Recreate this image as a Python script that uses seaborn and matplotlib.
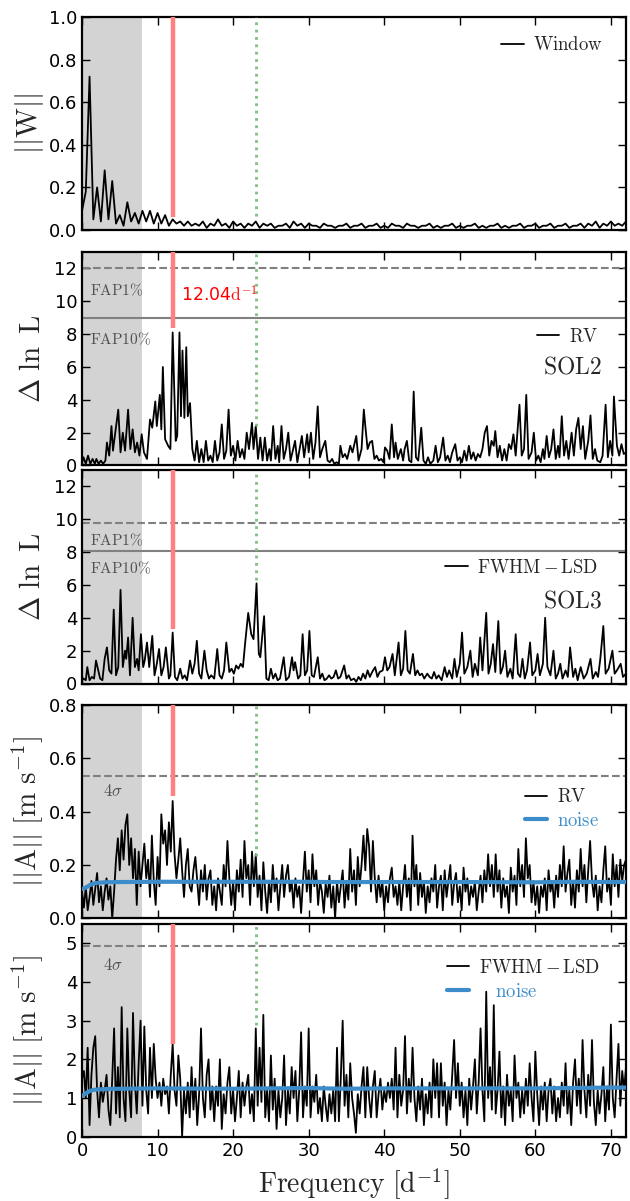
import numpy as np
import pandas as pd
import matplotlib
matplotlib.use("Agg")
import matplotlib.pyplot as plt
import seaborn as sns

# ---------------- data ----------------
WIN_STEP = 0.5   # frequency spacing of the window values [1/d]
window_power = [
    0.09, 0.18, 0.72, 0.05, 0.20, 0.04, 0.28, 0.05, 0.23, 0.03,
    0.07, 0.02, 0.13, 0.04, 0.08, 0.03, 0.09, 0.04, 0.09, 0.03,
    0.08, 0.03, 0.07, 0.02, 0.05, 0.03, 0.04, 0.02, 0.04, 0.02,
    0.03, 0.02, 0.04, 0.01, 0.03, 0.02, 0.05, 0.02, 0.03, 0.01,
    0.04, 0.02, 0.03, 0.01, 0.03, 0.02, 0.04, 0.01, 0.03, 0.02,
    0.03, 0.01, 0.02, 0.02, 0.03, 0.01, 0.04, 0.02, 0.03, 0.01,
    0.03, 0.02, 0.02, 0.01, 0.03, 0.02, 0.02, 0.01, 0.02, 0.02,
    0.03, 0.01, 0.02, 0.02, 0.03, 0.01, 0.02, 0.02, 0.03, 0.01,
    0.02, 0.01, 0.03, 0.02, 0.02, 0.01, 0.03, 0.02, 0.02, 0.01,
    0.02, 0.02, 0.03, 0.01, 0.02, 0.01, 0.02, 0.02, 0.03, 0.01,
    0.02, 0.01, 0.02, 0.02, 0.03, 0.01, 0.02, 0.01, 0.02, 0.02,
    0.03, 0.01, 0.02, 0.01, 0.02, 0.02, 0.03, 0.01, 0.02, 0.02,
    0.03, 0.01, 0.02, 0.02, 0.03, 0.01, 0.02, 0.02, 0.03, 0.01,
    0.02, 0.02, 0.03, 0.01, 0.03, 0.02, 0.04, 0.01, 0.03, 0.02,
    0.04, 0.02, 0.03, 0.02, 0.04,
]

# Delta ln L, RV (SOL2)
freq_rv_lnl = [
    0.0, 0.2, 0.5, 0.8, 1.1, 1.4, 1.7, 1.9, 2.2, 2.5,
    2.8, 3.1, 3.3, 3.6, 3.9, 4.1, 4.4, 4.8, 5.1, 5.4,
    5.7, 6.1, 6.4, 6.7, 7.0, 7.3, 7.6, 7.9, 8.2, 8.6,
    9.0, 9.3, 9.7, 9.9, 10.3, 10.5, 10.7, 11.0, 11.4, 11.7,
    12.0, 12.4, 12.6, 12.9, 13.1, 13.3, 13.55, 13.8, 14.0, 14.3,
    14.6, 14.9, 15.2, 15.5, 15.8, 16.1, 16.4, 16.7, 17.0, 17.3,
    17.6, 17.9, 18.2, 18.5, 18.8, 19.1, 19.4, 19.7, 20.0, 20.3,
    20.6, 20.9, 21.2, 21.5, 21.8, 22.1, 22.5, 22.7, 23.0, 23.3,
    23.6, 23.9, 24.2, 24.5, 24.8, 25.0, 25.3, 25.6, 25.9, 26.1,
    26.4, 26.7, 27.0, 27.3, 27.6, 27.9, 28.2, 28.5, 28.8, 29.1,
    29.4, 29.8, 30.0, 30.3, 30.6, 30.9, 31.2, 31.5, 31.8, 32.2,
    32.5, 32.8, 33.1, 33.4, 33.7, 34.0, 34.2, 34.5, 34.8, 35.1,
    35.5, 35.8, 36.0, 36.3, 36.6, 37.0, 37.3, 37.5, 37.8, 38.1,
    38.4, 38.7, 39.0, 39.3, 39.6, 39.9, 40.1, 40.4, 40.7, 41.0,
    41.3, 41.5, 41.8, 42.2, 42.5, 42.7, 43.0, 43.3, 43.6, 43.9,
    44.2, 44.5, 44.9, 45.2, 45.5, 45.8, 46.1, 46.5, 46.8, 47.1,
    47.4, 47.8, 48.1, 48.4, 48.7, 49.0, 49.4, 49.7, 50.0, 50.3,
    50.6, 50.9, 51.2, 51.5, 51.8, 52.1, 52.4, 52.7, 53.0, 53.3,
    53.6, 53.9, 54.2, 54.5, 54.7, 55.0, 55.3, 55.6, 55.9, 56.2,
    56.5, 56.8, 57.1, 57.4, 57.9, 58.2, 58.5, 58.8, 59.1, 59.5,
    59.8, 60.1, 60.4, 60.7, 61.0, 61.2, 61.5, 61.8, 62.1, 62.4,
    62.7, 63.0, 63.2, 63.5, 63.8, 64.1, 64.4, 64.8, 65.1, 65.4,
    65.7, 66.0, 66.3, 66.6, 67.0, 67.3, 67.6, 67.9, 68.2, 68.6,
    68.9, 69.3, 69.6, 69.9, 70.2, 70.4, 70.8, 71.1, 71.4, 71.7,
    72.0,
]
rv_lnl = [
    0.2, 0.5, 0.1, 0.6, 0.1, 0.4, 0.1, 0.4, 0.1, 0.3,
    0.1, 0.3, 1.4, 0.6, 2.4, 0.9, 2.0, 3.4, 0.8, 2.0,
    0.9, 3.4, 1.0, 2.2, 0.8, 1.4, 0.6, 1.9, 0.8, 0.4,
    2.8, 2.3, 3.9, 2.4, 4.3, 2.2, 6.0, 1.6, 1.2, 1.0,
    8.1, 1.5, 1.8, 8.1, 3.0, 7.0, 2.9, 7.2, 3.0, 3.8,
    1.0, 0.3, 1.5, 0.2, 1.0, 0.2, 1.5, 0.3, 0.6, 0.2,
    1.5, 0.3, 0.8, 2.5, 0.4, 0.9, 3.4, 0.6, 1.2, 0.3,
    1.5, 0.5, 1.0, 0.4, 2.0, 1.0, 2.6, 1.0, 2.4, 0.4,
    1.7, 0.3, 1.7, 0.3, 1.0, 0.3, 2.4, 0.4, 1.2, 0.2,
    2.4, 0.4, 1.0, 2.0, 0.3, 0.9, 1.5, 0.2, 1.0, 1.8,
    0.5, 1.9, 0.8, 2.0, 0.4, 1.4, 3.6, 0.5, 1.0, 1.5,
    0.3, 0.2, 0.4, 0.1, 0.2, 0.1, 1.2, 0.5, 0.7, 0.4,
    1.2, 0.8, 1.2, 1.8, 0.3, 1.0, 3.4, 2.4, 1.0, 1.4,
    1.5, 0.4, 0.6, 0.3, 0.4, 0.2, 1.1, 0.9, 0.4, 2.5,
    0.5, 1.4, 0.4, 1.0, 0.3, 1.0, 1.5, 0.3, 0.2, 4.5,
    0.5, 0.3, 2.3, 0.3, 0.1, 0.5, 0.1, 0.3, 1.2, 0.2,
    0.5, 1.7, 0.3, 0.6, 0.2, 0.8, 1.3, 0.3, 0.5, 0.2,
    0.9, 0.3, 1.2, 0.4, 0.8, 0.3, 0.7, 0.5, 1.0, 2.0,
    2.4, 0.6, 1.5, 1.2, 2.1, 0.5, 1.2, 0.3, 1.0, 0.3,
    1.3, 1.0, 1.9, 0.6, 3.7, 0.6, 1.0, 4.3, 0.4, 0.8,
    2.0, 0.3, 0.6, 0.2, 1.0, 0.4, 1.8, 0.5, 1.0, 2.2,
    0.4, 1.2, 0.5, 3.0, 0.6, 1.5, 0.4, 2.0, 0.6, 2.2,
    2.9, 1.0, 2.4, 0.4, 1.5, 3.05, 0.4, 1.0, 0.3, 0.2,
    0.6, 3.7, 0.5, 1.5, 0.6, 4.2, 1.2, 0.6, 1.3, 0.7,
    0.8,
]

# Delta ln L, FWHM-LSD (SOL3)
freq_fwhm_lnl = [
    0.0, 0.2, 0.5, 0.7, 1.0, 1.3, 1.6, 1.85, 2.1, 2.4,
    2.7, 3.0, 3.3, 3.6, 3.9, 4.2, 4.5, 4.8, 5.1, 5.4,
    5.7, 5.85, 6.1, 6.35, 6.7, 7.0, 7.3, 7.5, 7.8, 8.1,
    8.3, 8.6, 8.9, 9.3, 9.6, 9.9, 10.2, 10.5, 10.8, 11.1,
    11.5, 11.7, 12.0, 12.3, 12.6, 13.0, 13.3, 13.6, 13.9, 14.3,
    14.6, 14.9, 15.2, 15.5, 15.8, 16.2, 16.5, 16.8, 17.1, 17.5,
    17.9, 18.2, 18.5, 18.8, 19.1, 19.5, 19.8, 20.1, 20.4, 20.7,
    21.0, 21.3, 21.6, 22.0, 22.4, 22.7, 23.1, 23.4, 23.6, 24.1,
    24.4, 24.7, 25.0, 25.3, 25.6, 25.9, 26.2, 26.7, 27.0, 27.4,
    27.8, 28.0, 28.2, 28.6, 28.9, 29.2, 29.5, 29.8, 30.1, 30.4,
    30.7, 31.2, 31.5, 31.8, 32.1, 32.4, 32.7, 33.0, 33.3, 33.6,
    33.9, 34.2, 34.7, 35.0, 35.3, 35.6, 36.0, 36.3, 36.6, 36.9,
    37.2, 37.5, 37.8, 38.1, 38.4, 38.8, 39.1, 39.4, 39.8, 40.1,
    40.4, 40.7, 41.1, 41.4, 41.9, 42.2, 42.5, 42.8, 43.1, 43.4,
    43.8, 44.1, 44.4, 44.7, 45.0, 45.3, 45.7, 46.0, 46.3, 46.6,
    46.9, 47.2, 47.6, 48.0, 48.3, 48.6, 49.0, 49.3, 49.6, 50.0,
    50.3, 50.6, 51.0, 51.4, 51.7, 52.0, 52.4, 52.7, 53.0, 53.5,
    53.8, 54.1, 54.4, 54.7, 55.1, 55.4, 55.7, 56.0, 56.3, 56.7,
    57.0, 57.4, 57.7, 58.0, 58.3, 58.6, 58.9, 59.3, 59.6, 60.0,
    60.3, 60.6, 61.0, 61.3, 61.6, 62.0, 62.4, 62.7, 63.0, 63.3,
    63.6, 64.0, 64.3, 64.6, 65.0, 65.3, 65.6, 66.0, 66.4, 66.8,
    67.3, 67.6, 68.0, 68.3, 68.6, 69.0, 69.3, 69.7, 70.2, 70.5,
    70.8, 71.3, 71.6, 72.0,
]
fwhm_lnl = [
    0.2, 0.3, 0.2, 1.0, 0.2, 0.4, 0.3, 1.4, 0.9, 0.3,
    0.2, 1.5, 2.2, 0.8, 0.6, 4.5, 0.5, 1.0, 5.7, 1.0,
    2.0, 1.5, 2.8, 0.5, 4.0, 1.0, 1.5, 0.8, 3.0, 1.0,
    1.4, 2.5, 1.0, 2.9, 0.5, 1.2, 2.1, 0.5, 1.0, 2.2,
    0.3, 0.5, 3.1, 0.4, 0.2, 0.9, 0.3, 0.5, 0.2, 1.4,
    0.6, 1.2, 2.6, 0.6, 0.3, 2.0, 0.8, 0.3, 0.5, 0.3,
    2.1, 0.5, 0.3, 0.8, 2.5, 0.7, 0.9, 0.6, 1.1, 0.9,
    1.2, 1.0, 2.5, 4.3, 3.0, 2.7, 6.1, 1.8, 1.6, 4.1,
    0.3, 0.2, 0.9, 0.3, 0.6, 0.2, 0.3, 1.6, 0.2, 0.4,
    1.6, 0.8, 1.3, 0.3, 0.5, 3.0, 0.5, 0.8, 3.2, 0.5,
    0.4, 1.6, 0.3, 0.6, 0.2, 0.3, 0.5, 0.3, 0.4, 0.8,
    0.3, 0.4, 1.1, 0.3, 0.5, 0.2, 0.3, 0.1, 0.4, 0.2,
    0.6, 0.3, 0.8, 0.4, 0.7, 1.0, 0.4, 0.7, 0.8, 1.6,
    0.8, 1.0, 1.8, 0.5, 2.5, 0.5, 0.9, 3.2, 0.8, 0.6,
    1.8, 0.5, 0.8, 0.5, 0.6, 0.3, 0.6, 0.4, 0.3, 0.7,
    0.3, 0.5, 0.2, 1.0, 0.4, 0.8, 0.3, 1.5, 0.4, 1.2,
    3.1, 0.6, 1.0, 2.0, 0.4, 1.2, 0.5, 2.8, 0.8, 4.3,
    0.6, 1.2, 2.4, 0.7, 3.8, 0.6, 1.0, 2.0, 0.4, 0.9,
    0.3, 3.0, 0.6, 0.4, 1.5, 0.3, 0.8, 2.5, 0.5, 0.8,
    1.8, 0.5, 1.2, 4.0, 1.0, 0.5, 2.0, 0.3, 0.6, 1.2,
    0.3, 0.8, 0.4, 2.2, 0.4, 0.9, 0.2, 1.0, 0.3, 0.6,
    1.5, 0.3, 0.7, 0.4, 1.5, 3.5, 0.6, 0.9, 2.0, 0.6,
    0.8, 1.2, 0.4, 0.6,
]

AMP_STEP = 0.25  # frequency spacing of the amplitude values [1/d]
rv_amp = [
    0.10, 0.04, 0.12, 0.03, 0.08, 0.14, 0.05, 0.11, 0.17, 0.06, 0.12, 0.03, 0.10, 0.15, 0.07, 0.12, 0.00, 0.10, 0.22, 0.30,
    0.18, 0.33, 0.22, 0.35, 0.39, 0.20, 0.30, 0.15, 0.26, 0.05, 0.25, 0.12, 0.20, 0.28, 0.15, 0.22, 0.08, 0.31, 0.14, 0.05,
    0.23, 0.12, 0.39, 0.28, 0.33, 0.20, 0.36, 0.25, 0.44, 0.24, 0.15, 0.22, 0.30, 0.18, 0.08, 0.20, 0.26, 0.12, 0.10, 0.18,
    0.23, 0.14, 0.05, 0.18, 0.10, 0.20, 0.07, 0.15, 0.18, 0.05, 0.12, 0.03, 0.15, 0.10, 0.05, 0.20, 0.12, 0.29, 0.15, 0.05,
    0.14, 0.03, 0.18, 0.10, 0.22, 0.08, 0.29, 0.15, 0.20, 0.05, 0.25, 0.12, 0.24, 0.08, 0.16, 0.03, 0.21, 0.10, 0.02, 0.14,
    0.06, 0.20, 0.10, 0.15, 0.03, 0.12, 0.20, 0.08, 0.16, 0.20, 0.10, 0.14, 0.04, 0.15, 0.08, 0.12, 0.02, 0.14, 0.25, 0.10,
    0.18, 0.06, 0.24, 0.12, 0.18, 0.05, 0.14, 0.10, 0.02, 0.13, 0.08, 0.16, 0.04, 0.12, 0.00, 0.14, 0.06, 0.12, 0.18, 0.04,
    0.14, 0.07, 0.26, 0.10, 0.18, 0.05, 0.23, 0.12, 0.20, 0.31, 0.18, 0.335, 0.27, 0.10, 0.29, 0.15, 0.06, 0.16, 0.08, 0.14,
    0.03, 0.12, 0.06, 0.15, 0.19, 0.08, 0.12, 0.05, 0.14, 0.03, 0.12, 0.20, 0.08, 0.15, 0.03, 0.31, 0.12, 0.20, 0.05, 0.17,
    0.08, 0.14, 0.02, 0.12, 0.06, 0.15, 0.10, 0.20, 0.04, 0.12, 0.16, 0.03, 0.18, 0.08, 0.14, 0.20, 0.05, 0.13, 0.17, 0.06,
    0.12, 0.03, 0.19, 0.10, 0.15, 0.05, 0.12, 0.08, 0.14, 0.03, 0.10, 0.16, 0.06, 0.18, 0.10, 0.24, 0.12, 0.20, 0.08, 0.24,
    0.10, 0.18, 0.04, 0.15, 0.08, 0.12, 0.02, 0.19, 0.10, 0.16, 0.05, 0.26, 0.12, 0.20, 0.08, 0.30, 0.15, 0.20, 0.06, 0.14,
    0.05, 0.12, 0.02, 0.12, 0.08, 0.15, 0.03, 0.18, 0.10, 0.14, 0.04, 0.16, 0.08, 0.20, 0.12, 0.27, 0.10, 0.17, 0.22, 0.05,
    0.14, 0.04, 0.18, 0.10, 0.26, 0.12, 0.20, 0.06, 0.18, 0.29, 0.14, 0.08, 0.16, 0.03, 0.12, 0.06, 0.18, 0.27, 0.10, 0.15,
    0.05, 0.24, 0.12, 0.20, 0.08, 0.22, 0.14, 0.20, 0.22,
]
fwhm_amp = [
    1.5, 1.7, 1.0, 2.3, 0.3, 1.6, 2.3, 2.6, 1.2, 0.5, 1.4, 0.9, 1.2, 1.6, 0.7, 0.3, 1.5, 2.8, 0.6, 1.8,
    0.5, 3.35, 1.0, 0.4, 2.8, 1.2, 0.5, 3.2, 1.4, 0.6, 1.9, 3.0, 0.8, 2.85, 1.2, 0.6, 2.3, 1.0, 2.4, 1.5,
    1.0, 1.4, 0.8, 1.5, 1.1, 1.3, 0.6, 1.6, 2.4, 1.2, 0.8, 2.1, 1.5, 0.0, 1.2, 0.6, 1.4, 0.5, 1.8, 0.7,
    1.5, 0.3, 1.1, 2.8, 1.0, 0.5, 1.6, 2.0, 0.7, 1.3, 0.4, 1.3, 0.8, 2.0, 0.2, 1.1, 0.6, 1.4, 1.8, 0.6,
    1.2, 0.4, 1.0, 1.7, 0.5, 1.4, 0.8, 1.3, 1.6, 0.6, 1.1, 0.4, 2.8, 0.8, 2.3, 0.9, 3.15, 0.5, 1.2, 0.4,
    2.1, 0.7, 1.5, 0.2, 1.2, 0.5, 1.0, 2.1, 0.3, 1.2, 0.6, 1.8, 1.0, 1.7, 0.4, 1.2, 2.7, 0.5, 1.3, 0.8,
    2.8, 0.5, 1.3, 0.9, 1.6, 0.6, 1.0, 0.4, 1.3, 0.8, 0.4, 1.1, 0.6, 1.2, 0.4, 2.3, 0.4, 1.5, 3.0, 0.8,
    1.6, 0.5, 1.9, 1.0, 0.6, 0.1, 1.1, 0.6, 1.3, 1.8, 0.5, 1.8, 1.0, 0.5, 1.3, 1.7, 0.5, 1.1, 1.5, 0.7,
    1.2, 0.9, 1.4, 1.0, 1.5, 0.7, 2.3, 0.5, 1.6, 0.8, 1.2, 2.6, 0.6, 1.5, 0.9, 2.3, 1.0, 0.4, 1.3, 0.7,
    1.5, 0.3, 1.1, 0.6, 1.4, 0.5, 2.0, 1.0, 1.9, 0.5, 1.9, 0.8, 1.4, 0.3, 1.2, 0.7, 1.6, 2.5, 1.0, 1.9,
    0.8, 1.4, 0.5, 1.2, 0.3, 1.5, 0.7, 1.3, 2.0, 0.6, 1.4, 2.8, 1.2, 0.4, 3.75, 1.0, 1.8, 0.7, 3.4, 0.6,
    1.2, 2.2, 0.5, 1.3, 0.3, 1.6, 0.8, 1.2, 0.4, 2.1, 1.0, 1.4, 0.5, 1.2, 0.6, 1.5, 0.8, 1.9, 1.0, 0.4,
    2.2, 1.1, 0.3, 1.3, 0.7, 1.4, 0.4, 1.2, 1.5, 0.6, 1.3, 0.4, 1.0, 0.5, 1.4, 0.8, 1.9, 0.6, 1.2, 0.3,
    1.4, 2.0, 0.8, 1.5, 0.6, 2.5, 1.2, 0.5, 1.6, 0.8, 2.5, 0.9, 0.3, 1.2, 0.6, 1.1, 1.8, 0.4, 1.3, 0.7,
    2.9, 1.0, 0.5, 1.5, 2.4, 0.8, 1.7, 1.2, 1.8,
]

# noise levels (smooth curves)
noise_freq = [0.0, 0.5, 1.0, 1.5, 2.0, 3.0, 5.0, 10.0, 20.0, 25.0, 30.0, 32.0, 35.0, 40.0, 50.0, 60.0, 65.0, 70.0, 72.0]
rv_noise = [0.110, 0.115, 0.124, 0.130, 0.133, 0.135, 0.136, 0.137, 0.137, 0.137, 0.137, 0.136, 0.136, 0.136, 0.136, 0.135, 0.137, 0.136, 0.136]
fwhm_noise = [1.05, 1.12, 1.18, 1.21, 1.22, 1.23, 1.24, 1.25, 1.24, 1.25, 1.26, 1.25, 1.24, 1.25, 1.25, 1.25, 1.26, 1.27, 1.27]

# reference levels
fap_rv = [12.05, 9.0]       # FAP1%, FAP10%
fap_fwhm = [9.8, 8.09]
sigma4 = [0.534, 4.93]      # 4 sigma for RV and FWHM amplitude
F_PEAK = 12.04
F_OTHER = 23.0
SHADE = [0.0, 8.0]
xticks = [0, 10, 20, 30, 40, 50, 60, 70]

# ---------------- style ----------------
sns.set_style("ticks")
plt.rcParams.update({
    "font.family": ["DejaVu Sans"],
    "mathtext.fontset": "cm",
    "axes.linewidth": 1.6,
    "axes.edgecolor": "black",
    "xtick.direction": "in", "ytick.direction": "in",
    "xtick.top": True, "ytick.right": True,
    "xtick.major.size": 6, "ytick.major.size": 6,
    "xtick.major.width": 1.0, "ytick.major.width": 1.0,
    "xtick.labelsize": 13, "ytick.labelsize": 13,
    "xtick.color": "black", "ytick.color": "black",
})

RED = "#ff8080"
GREEN = "#80c080"
GREY_SHADE = "#d3d3d3"
NOISE_C = "#3d8dcb"
TXT_GREY = "#505050"

W, H = 630, 1201
fig = plt.figure(figsize=(W / 100, H / 100), dpi=100)
left, right = 82, 626
panel_px = [(17, 230), (252, 465.5), (470, 683.5), (705, 918.3), (924, 1136.7)]
axes = []
for top, bot in panel_px:
    axes.append(fig.add_axes([left / W, 1 - bot / H, (right - left) / W, (bot - top) / H]))

ylims = [(0, 1.0), (0, 13), (0, 13), (0, 0.8), (0, 5.5)]
yticks = [[0, 0.2, 0.4, 0.6, 0.8, 1.0], [0, 2, 4, 6, 8, 10, 12], [0, 2, 4, 6, 8, 10, 12],
          [0, 0.2, 0.4, 0.6, 0.8], [0, 1, 2, 3, 4, 5]]
ylabels = [r"$||\mathrm{W}||$", r"$\Delta\ \ln\ \mathrm{L}$", r"$\Delta\ \ln\ \mathrm{L}$",
           r"$||\mathrm{A}||\ [\mathrm{m\ s^{-1}}]$", r"$||\mathrm{A}||\ [\mathrm{m\ s^{-1}}]$"]
YLAB_FS = 21
red_lo = [0.06, 8.4, 3.3, 0.46, 2.39]
green_lo = [0.066, 2.4, 6.3, 0.235, 2.89]

def series(freq, vals):
    n = min(len(freq), len(vals))
    return pd.DataFrame({"f": np.asarray(freq[:n], float), "v": np.asarray(vals[:n], float)})

win_df = pd.DataFrame({"f": np.arange(len(window_power)) * WIN_STEP, "v": window_power})
rvl_df = series(freq_rv_lnl, rv_lnl)
fwl_df = series(freq_fwhm_lnl, fwhm_lnl)
rva_df = pd.DataFrame({"f": np.arange(len(rv_amp)) * AMP_STEP, "v": rv_amp})
fwa_df = pd.DataFrame({"f": np.arange(len(fwhm_amp)) * AMP_STEP, "v": fwhm_amp})
rvn_df = series(noise_freq, rv_noise)
fwn_df = series(noise_freq, fwhm_noise)

data = [win_df, rvl_df, fwl_df, rva_df, fwa_df]
labels = [r"$\mathrm{Window}$", r"$\mathrm{RV}$", r"$\mathrm{FWHM-LSD}$", r"$\mathrm{RV}$", r"$\mathrm{FWHM-LSD}$"]

for i, ax in enumerate(axes):
    ax.axvspan(SHADE[0], SHADE[1], color=GREY_SHADE, lw=0, zorder=0)
    sns.lineplot(data=data[i], x="f", y="v", ax=ax, color="black", lw=1.3,
                 estimator=None, sort=False, label=labels[i], zorder=3)
    ax.vlines(F_PEAK, red_lo[i], ylims[i][1], color=RED, lw=3.2, zorder=4)
    ax.vlines(F_OTHER, green_lo[i], ylims[i][1], color=GREEN, lw=2.0, linestyles=":", zorder=4)
    ax.set_xlim(0, 72)
    ax.set_ylim(*ylims[i])
    ax.set_xticks(xticks)
    ax.set_yticks(yticks[i])
    ax.set_xlabel("")
    ax.tick_params(which="both", direction="in", top=True, right=True, labelbottom=(i == 4))
    for s in ax.spines.values():
        s.set_linewidth(1.6)

# noise curves
sns.lineplot(data=rvn_df, x="f", y="v", ax=axes[3], color=NOISE_C, lw=3, estimator=None,
             sort=False, label=r"$\mathrm{noise}$", zorder=5)
sns.lineplot(data=fwn_df, x="f", y="v", ax=axes[4], color=NOISE_C, lw=3, estimator=None,
             sort=False, label=r"$\quad\mathrm{noise}$", zorder=5)

for i, ax in enumerate(axes):
    ax.set_xlabel("")
    ax.set_ylabel(ylabels[i], fontsize=YLAB_FS)
    ax.yaxis.set_label_coords(-0.066, 0.5)

# FAP lines and labels
for ax, (f1, f10) in zip(axes[1:3], [fap_rv, fap_fwhm]):
    ax.axhline(f1, color="grey", lw=1.5, ls="--", zorder=2)
    ax.axhline(f10, color="grey", lw=1.5, zorder=2)
axes[1].text(1.06, 10.7, r"$\mathrm{FAP1\%}$", color=TXT_GREY, fontsize=11, ha="left", va="center")
axes[1].text(1.06, 7.7, r"$\mathrm{FAP10\%}$", color=TXT_GREY, fontsize=11, ha="left", va="center")
axes[2].text(1.06, 8.74, r"$\mathrm{FAP1\%}$", color=TXT_GREY, fontsize=11, ha="left", va="center")
axes[2].text(1.06, 7.05, r"$\mathrm{FAP10\%}$", color=TXT_GREY, fontsize=11, ha="left", va="center")
axes[1].text(13.1, 10.35, r"12.04$\mathrm{d}^{-1}$", color="red", fontsize=12.5, ha="left", va="center")

# 4 sigma lines
for ax, s in zip(axes[3:5], sigma4):
    ax.axhline(s, color="grey", lw=1.5, ls="--", zorder=2)
axes[3].text(4.1, 0.478, r"$4\sigma$", color=TXT_GREY, fontsize=12, ha="center", va="center")
axes[4].text(4.1, 4.44, r"$4\sigma$", color=TXT_GREY, fontsize=12, ha="center", va="center")

# legends
leg_pos = [(0.958, 0.915), (0.949, 0.649), (0.949, 0.59), (0.950, 0.615), (0.952, 0.84)]
for i, ax in enumerate(axes):
    leg = ax.legend(loc="upper right", bbox_to_anchor=leg_pos[i], frameon=False, fontsize=13.5,
                    handlelength=1.2, handletextpad=0.5, borderpad=0, borderaxespad=0,
                    labelspacing=0.25)
    if i >= 3:
        leg.get_texts()[1].set_color(NOISE_C)

axes[1].text(0.955, 0.463, r"$\mathrm{SOL2}$", transform=axes[1].transAxes, fontsize=17, ha="right", va="center")
axes[2].text(0.955, 0.39, r"$\mathrm{SOL3}$", transform=axes[2].transAxes, fontsize=17, ha="right", va="center")

axes[4].set_xlabel(r"$\mathrm{Frequency}\ [\mathrm{d^{-1}}]$", fontsize=20, labelpad=5)

fig.savefig("out.png", dpi=100)
